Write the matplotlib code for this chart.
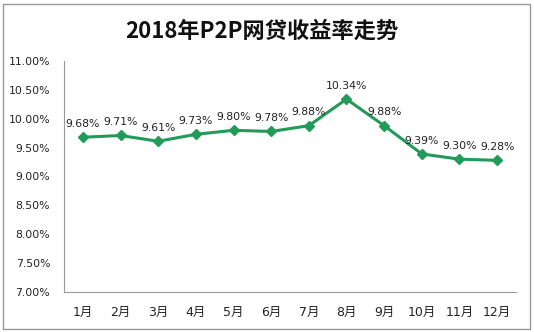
import matplotlib
matplotlib.use("Agg")
import matplotlib.pyplot as plt
from matplotlib.ticker import FuncFormatter

plt.rcParams['font.family'] = ['DejaVu Sans', 'Noto Sans CJK SC']

months = ["1月", "2月", "3月", "4月", "5月", "6月", "7月", "8月", "9月", "10月", "11月", "12月"]
rates = [9.68, 9.71, 9.61, 9.73, 9.80, 9.78, 9.88, 10.34, 9.88, 9.39, 9.30, 9.28]
yticks = [7.0, 7.5, 8.0, 8.5, 9.0, 9.5, 10.0, 10.5, 11.0]
title = "2018年P2P网贷收益率走势"

line_color = "#229a5a"

fig = plt.figure(figsize=(5.34, 3.32), dpi=100)
ax = fig.add_axes([64 / 534, 40 / 332, 452 / 534, 231 / 332])

x = list(range(len(months)))
ax.plot(x, rates, color=line_color, lw=2.2, marker="D", ms=5, mec=line_color, mfc=line_color)

for xi, r in zip(x, rates):
    ax.annotate("%.2f%%" % r, (xi, r), xytext=(0, 6), textcoords="offset points",
                ha="center", va="bottom", fontsize=7.8, color="#222222")

ax.set_xlim(-0.5, len(months) - 0.5)
ax.set_ylim(7.0, 11.0)
ax.set_yticks(yticks)
ax.yaxis.set_major_formatter(FuncFormatter(lambda v, p: "%.2f%%" % v))
ax.set_xticks(x)
ax.set_xticklabels(months, family=['DejaVu Sans', 'Noto Sans CJK SC'], fontsize=9)

for s in ["top", "right"]:
    ax.spines[s].set_visible(False)
ax.spines["left"].set_color("#999999")
ax.spines["bottom"].set_color("#999999")
ax.tick_params(axis="both", length=0, colors="#222222")
ax.tick_params(axis="y", pad=10, labelsize=7.8)
ax.tick_params(axis="x", pad=10)

fig.text(0.49, 0.905, title, ha="center", va="center", fontsize=16, fontweight="bold",
         family=['Noto Sans CJK SC', 'DejaVu Sans'], color="#111111")

# outer border
fig.patches.append(plt.Rectangle((3 / 534, 3 / 332), 527 / 534, 325 / 332, transform=fig.transFigure,
                                 fill=False, ec="#999999", lw=1))

fig.savefig("out.png", dpi=100)
